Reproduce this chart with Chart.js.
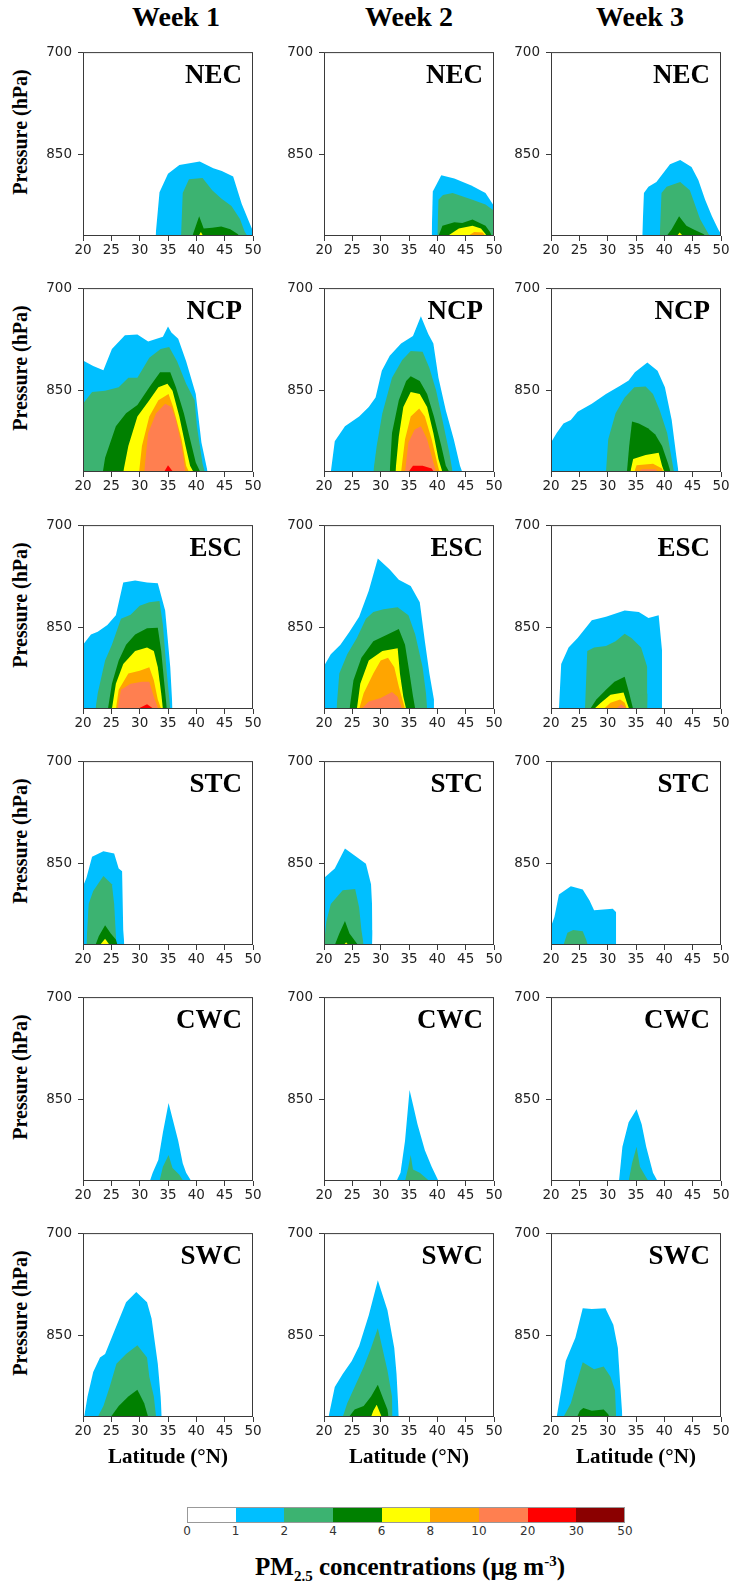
<!DOCTYPE html>
<html>
<head>
<meta charset="utf-8">
<script src="https://cdn.jsdelivr.net/npm/chart.js@4"></script>
<style>
body{margin:0;background:#fff;width:731px;height:1584px;position:relative;overflow:hidden;font-family:'Liberation Serif','Times New Roman',serif;}
.t{position:absolute;font-weight:bold;white-space:nowrap;line-height:1;color:#000;}
.t sub,.t sup{font-size:15px;line-height:0;}
canvas{position:absolute;}
.cb{position:absolute;box-sizing:border-box;}
.cbl{position:absolute;font-family:'DejaVu Sans',sans-serif;font-size:12px;color:#333;line-height:1;transform:translateX(-50%);}
</style>
</head>
<body>
<script>
// contour levels (ug m-3) and fill colours between them
const LEVELS = [0, 1, 2, 4, 6, 8, 10, 20, 30, 50];
const COLORS = ['#ffffff', '#00bfff', '#3cb371', '#008000', '#ffff00', '#ffa500', '#ff7f50', '#ff0000', '#8b0000'];

const WEEKS = ['Week 1', 'Week 2', 'Week 3'];
const REGIONS = ['NEC', 'NCP', 'ESC', 'STC', 'CWC', 'SWC'];
const P_TICKS = [700, 850];
const P_TOP = 700, PB = 969;

// each ring: [level index, lat, p, lat, p, ...] (outline of the area above that level)
const NEC_W1 = [
  [1, 32.8,969, 33.5,905, 35,878, 37,865, 40.6,860, 43,870, 44.5,874, 46.5,882, 48,922, 49.3,948, 50,962, 50,969],
  [2, 37.3,969, 37.6,906, 38.7,886, 41.1,884, 42.8,902, 44.4,914, 46.2,925, 47.7,944, 48.5,962, 49,969],
  [3, 39.3,969, 40.5,940, 41.3,958, 42.8,957, 44.4,955, 46,959, 47.3,966, 47.6,969],
  [4, 40.4,969, 40.8,963, 41.2,969]
];
const NEC_W2 = [
  [1, 39,969, 39.2,904, 40.7,880, 43,885, 46,895, 48.5,906, 50,925, 50,969],
  [2, 40,969, 40.2,916, 41,909, 42.7,906, 46.2,916, 48.5,923, 50,932, 50,969],
  [3, 40.2,969, 40.9,954, 43,949, 44.4,950, 46.2,945, 48.5,954, 49.3,963, 49.6,969],
  [4, 41.8,969, 43.8,958, 46.2,954, 47.7,958, 48.5,966, 48.7,969],
  [5, 45.4,969, 46.5,963, 48,964, 48.5,969]
];
const NEC_W3 = [
  [1, 36.1,969, 36.4,906, 37.2,897, 38.6,890, 41,864, 42.8,858, 44.8,868, 46,887, 47.2,916, 48.4,940, 49.5,959, 50,966, 50,969],
  [2, 39.2,969, 39.5,906, 40.4,897, 42.8,890, 44.5,902, 45.1,916, 46.3,944, 47.8,966, 48.2,969],
  [3, 40.4,969, 41.3,959, 42.6,940, 43.9,954, 45.1,959, 46.9,966, 47.3,969],
  [4, 42.2,969, 42.7,964, 43.3,969]
];
const NCP_W1 = [
  [1, 20,969, 20,806, 21.8,814, 23.6,820, 25.1,789, 27.4,769, 29.6,768, 31.5,778, 34.1,771, 35,756, 35.6,765, 36.8,774, 38.2,807, 39.9,855, 40.9,926, 42,969],
  [2, 20,969, 20,869, 21.6,852, 23.9,850, 26.3,845, 28,831, 29.6,831, 31.7,802, 33.7,789, 35.2,786, 36.6,807, 38.2,840, 39.7,864, 40.1,902, 41.1,957, 41.5,969],
  [3, 23.5,969, 23.9,948, 25.8,902, 27.6,883, 29.6,871, 31.7,845, 33.6,823, 35.4,823, 36.4,845, 37.8,883, 38.9,921, 39.9,955, 40.7,969],
  [4, 27.1,969, 28,931, 29.6,888, 31.7,864, 33.3,845, 34.9,840, 35.8,850, 37,888, 38.1,931, 38.9,960, 39.5,969],
  [5, 29.9,969, 30.4,931, 31.7,888, 33.3,864, 35.1,855, 35.9,874, 37.4,921, 38.2,960, 38.7,969],
  [6, 30.8,969, 31.5,912, 32.9,883, 34.5,869, 35.6,874, 36.4,893, 37.4,931, 38.1,969],
  [7, 34.3,969, 35,959, 35.9,969]
];
const NCP_W2 = [
  [1, 21.2,969, 21.9,924, 23.7,902, 26.2,888, 27.9,874, 29.1,860, 30.2,821, 31.6,799, 33.6,781, 35.7,770, 37.1,741, 38.4,767, 39.3,781, 40.2,831, 41.5,879, 42.9,921, 44,960, 44.4,969],
  [2, 28.7,969, 29.3,931, 30.3,883, 32,831, 33.8,805, 35.3,792, 37.4,793, 38.6,817, 39.8,850, 40.9,893, 42.1,940, 42.7,969],
  [3, 31.6,969, 32,912, 33.2,864, 34.5,836, 35.3,829, 36.9,836, 38.2,855, 39.4,888, 40.7,931, 41.5,960, 42.1,969],
  [4, 32.6,969, 33.2,917, 34,874, 35.3,852, 36.9,855, 38.2,874, 39.3,912, 40.2,950, 40.9,969],
  [5, 33.6,969, 34.3,921, 35.3,888, 36.8,876, 37.8,888, 39,921, 40.1,960, 40.4,969],
  [6, 34.3,969, 34.9,926, 36,907, 37.1,902, 38.2,921, 39.3,955, 39.8,969],
  [7, 34.9,969, 35.7,960, 37.4,960, 39,964, 39.4,969]
];
const NCP_W3 = [
  [1, 20,969, 20,926, 21,912, 22.2,898, 23.5,893, 24.7,881, 27.2,869, 29.7,855, 32.2,843, 33.7,835, 34.8,823, 37,809, 38.8,821, 40.1,845, 41.3,893, 42.1,945, 42.5,969],
  [2, 29.7,969, 30.1,921, 31.4,883, 33,860, 34.7,845, 36.7,844, 38,855, 39.2,879, 40.5,912, 41.3,950, 41.7,969],
  [3, 33.4,969, 33.8,931, 34.3,895, 35.5,898, 37.1,905, 38.4,914, 39.6,931, 40.6,955, 41.1,969],
  [4, 34,969, 34.5,950, 36.7,944, 39,941, 39.6,960, 40,969],
  [5, 34.7,969, 35.1,959, 38,957, 39.6,964, 39.8,969],
  [6, 35.5,969, 36,965, 38.5,965, 38.8,969]
];
const ESC_W1 = [
  [1, 20,969, 20,875, 21.4,860, 22.6,856, 24.3,846, 25.8,832, 27.1,784, 29.2,781, 31.3,784, 33.2,785, 34.5,825, 35.4,908, 35.8,969],
  [2, 22.2,969, 22.6,946, 23.9,898, 25.1,875, 26.7,837, 28.4,831, 30,818, 31.7,813, 33.5,811, 34.1,846, 34.8,917, 35.4,969],
  [3, 24.4,969, 25.1,932, 26.3,898, 27.6,875, 29.2,860, 31.3,851, 33.2,850, 33.8,884, 34.4,936, 34.8,969],
  [4, 25.1,969, 25.8,932, 27.1,903, 29.2,884, 31.3,879, 32.5,884, 33.2,908, 33.8,946, 34.1,969],
  [5, 25.8,969, 26.3,941, 28,917, 30,913, 31.7,908, 32.5,927, 33.2,955, 33.8,969],
  [6, 26.1,969, 26.7,941, 28.4,932, 30.4,929, 31.7,929, 32.5,951, 33.3,969],
  [7, 29.6,969, 31.3,962, 32.5,969]
];
const ESC_W2 = [
  [1, 20,969, 20,906, 21.2,889, 22.9,875, 24.5,856, 26.2,834, 27.9,796, 29.5,749, 31.6,765, 33.2,780, 35.3,789, 36.9,813, 37.8,870, 38.6,917, 39.4,955, 39.4,969],
  [2, 22.2,969, 22.7,917, 24.1,889, 25.8,865, 27.4,837, 28.7,827, 30.5,823, 33,820, 34.9,832, 36.1,860, 37.4,908, 38,946, 38.2,969],
  [3, 24.5,969, 25.2,927, 26.6,894, 28.7,870, 31.2,860, 33.2,852, 34.3,875, 35.1,917, 35.7,950, 36.1,969],
  [4, 25.8,969, 26.4,932, 27.9,898, 30.3,884, 33,880, 33.4,917, 34,951, 34.5,969],
  [5, 26.2,969, 27,946, 28.7,917, 30,898, 31.3,894, 32.4,908, 33.2,936, 34,960, 34.3,969],
  [6, 26.6,969, 27.9,958, 30,953, 32,944, 33,951, 33.8,969]
];
const ESC_W3 = [
  [1, 21.4,969, 21.8,903, 23.1,879, 24.7,865, 27.2,839, 29.7,834, 33,825, 35.5,827, 37.2,836, 39,832, 39.6,884, 39.6,969],
  [2, 26,969, 26.4,884, 27.6,879, 29.7,877, 31.4,870, 33,859, 34.2,865, 35.9,879, 37,908, 37.2,946, 37,969],
  [3, 26.9,969, 28,955, 29.7,941, 31.2,929, 33,922, 33.8,946, 34.5,969],
  [4, 27.6,969, 28.8,960, 30.5,948, 32.8,945, 33.4,960, 33.8,969],
  [5, 29.3,969, 30.5,960, 32.2,955, 33,960, 33.4,969],
  [6, 31.4,969, 32.4,962, 33.4,969]
];
const STC_W1 = [
  [1, 20,969, 20,883, 20.6,871, 21.6,840, 23.6,832, 25.5,835, 26.3,857, 26.9,861, 27.1,947, 27.3,969],
  [2, 20.6,969, 21,909, 21.8,890, 23.6,868, 25.1,880, 25.5,909, 25.9,969],
  [3, 22.2,969, 22.8,956, 23.9,940, 24.9,952, 25.8,961, 26.1,969],
  [4, 23,969, 23.9,960, 24.7,969]
];
const STC_W2 = [
  [1, 20,969, 20,871, 21.9,857, 23.7,828, 25.4,838, 27.4,850, 28.3,880, 28.7,947, 28.5,969],
  [2, 20,969, 20.4,935, 21.2,909, 23.3,889, 25.5,887, 26.2,914, 26.6,947, 27,969],
  [3, 21.9,969, 22.7,952, 23.7,934, 24.5,952, 26,969],
  [4, 23.5,969, 23.9,965, 24.3,969]
];
const STC_W3 = [
  [1, 20,969, 20,942, 20.6,928, 21.4,895, 23.5,883, 25.6,888, 26.8,904, 27.6,918, 30.9,916, 31.5,921, 31.5,969],
  [2, 22.2,969, 22.9,951, 23.9,947, 25.6,949, 26.2,961, 26.5,969]
];
const CWC_W1 = [
  [1, 31.8,969, 32.3,957, 33.3,938, 34.1,898, 35.1,855, 35.9,881, 36.8,910, 37.6,943, 38.2,957, 39.1,969],
  [2, 33.5,969, 34.1,948, 35.1,931, 35.8,950, 37,960, 37.7,969]
];
const CWC_W2 = [
  [1, 32.8,969, 33.5,957, 34.3,910, 35.1,836, 35.7,857, 36.5,886, 37.8,924, 39,948, 40.2,969],
  [2, 34.3,969, 34.9,948, 35.3,931, 35.7,952, 36.9,957, 38.6,969]
];
const CWC_W3 = [
  [1, 32,969, 32.6,919, 33.7,883, 35.1,864, 36,886, 36.8,919, 38,957, 38.8,969],
  [2, 33.7,969, 34.3,943, 35.1,919, 35.7,948, 36.8,964, 37.2,969]
];
const SWC_W1 = [
  [1, 20.2,969, 20.8,939, 21.8,903, 23,882, 23.9,877, 25.5,844, 27.6,801, 29.4,786, 31.3,801, 32.1,825, 33.2,891, 33.7,939, 33.9,969],
  [2, 22.6,969, 23.6,953, 24.7,925, 25.9,891, 27.6,877, 29.6,864, 31.3,882, 31.7,910, 32.5,939, 32.9,969],
  [3, 24.9,969, 26.3,953, 28,939, 29.6,929, 30.8,949, 31.5,969]
];
const SWC_W2 = [
  [1, 20.8,969, 21.9,925, 23.3,906, 24.9,887, 26.2,865, 27.9,820, 29.5,769, 31.2,813, 32.4,868, 32.8,906, 33.2,969],
  [2, 23.3,969, 24.1,949, 25.4,925, 27,896, 28.3,868, 29.5,839, 30.3,868, 31.2,901, 32,939, 32.1,969],
  [3, 24.4,969, 25.4,958, 27,953, 28.3,939, 29.5,922, 30.3,939, 31.2,958, 31.4,969],
  [4, 28.3,969, 28.7,960, 29.3,951, 29.9,963, 30.2,969]
];
const SWC_W3 = [
  [1, 21,969, 21.8,930, 22.6,887, 24.3,853, 25.6,810, 27.2,811, 29.6,810, 31,834, 31.8,868, 32.2,920, 32.6,969],
  [2, 22.2,969, 23.5,949, 24.3,925, 25.6,889, 27.6,899, 29.3,895, 30.5,910, 31.3,930, 31.5,969],
  [3, 24.6,969, 25.1,960, 25.7,956, 27.2,960, 29.3,958, 30.1,965, 30.3,969]
];

const PANELS = [
  [NEC_W1, NEC_W2, NEC_W3],
  [NCP_W1, NCP_W2, NCP_W3],
  [ESC_W1, ESC_W2, ESC_W3],
  [STC_W1, STC_W2, STC_W3],
  [CWC_W1, CWC_W2, CWC_W3],
  [SWC_W1, SWC_W2, SWC_W3]
];

// page layout
const COL_LEFT = [83, 324, 551];
const ROW_TOP = [48, 284, 521, 757, 993, 1229];
const PW = 170, PH = 188;
const AX_W = 45, PAD_T = 10, PAD_R = 12, AX_H = 30;
const TICK_FONT = {family: "'DejaVu Sans', sans-serif", size: 13.5};

function addText(html, x, y, size, rot) {
  const d = document.createElement('div');
  d.className = 't';
  d.innerHTML = html;
  d.style.fontSize = size + 'px';
  d.style.left = x + 'px';
  d.style.top = y + 'px';
  d.style.transform = rot ? 'translate(-50%,-50%) rotate(-90deg)' : 'translateX(-50%)';
  document.body.appendChild(d);
  return d;
}

const frame = {
  id: 'frame',
  afterDraw(chart, args, opts) {
    const {ctx, chartArea: {left, top, right, bottom}} = chart;
    ctx.save();
    ctx.strokeStyle = '#3a3a3a';
    ctx.lineWidth = 1;
    ctx.strokeRect(left + 0.5, top + 0.5, right - left - 1, bottom - top - 1);
    ctx.font = 'bold 27px "Liberation Serif", serif';
    ctx.textAlign = 'right';
    ctx.fillStyle = '#000';
    ctx.fillText(opts.label, right - 11, top + 31);
    ctx.restore();
  }
};

function ringPoints(r) {
  const pts = [];
  for (let i = 1; i < r.length; i += 2) pts.push({x: r[i], y: r[i + 1]});
  return pts;
}

PANELS.forEach((row, r) => {
  row.forEach((rings, c) => {
    const cv = document.createElement('canvas');
    cv.width = AX_W + PW + PAD_R;
    cv.height = PAD_T + PH + AX_H;
    cv.style.left = (COL_LEFT[c] - AX_W) + 'px';
    cv.style.top = (ROW_TOP[r] - PAD_T) + 'px';
    document.body.appendChild(cv);

    new Chart(cv, {
      type: 'line',
      data: {
        datasets: rings.map(ring => ({
          data: ringPoints(ring),
          backgroundColor: COLORS[ring[0]],
          borderColor: COLORS[ring[0]],
          borderWidth: 0,
          pointRadius: 0,
          tension: 0,
          fill: {value: PB},
          order: 20 - ring[0]
        }))
      },
      options: {
        responsive: false,
        animation: false,
        devicePixelRatio: 1,
        layout: {padding: {top: PAD_T, right: PAD_R, left: 0, bottom: 0}},
        plugins: {legend: {display: false}, tooltip: {enabled: false}, frame: {label: REGIONS[r]}},
        scales: {
          x: {
            type: 'linear', min: 20, max: 50,
            ticks: {stepSize: 5, color: '#222', font: TICK_FONT, padding: 1, maxRotation: 0, autoSkip: false},
            grid: {drawOnChartArea: false, drawTicks: true, tickLength: 5, color: '#3a3a3a'},
            border: {display: false},
            afterFit(s) { s.height = AX_H; }
          },
          y: {
            type: 'linear', reverse: true, min: P_TOP, max: PB,
            afterBuildTicks(s) { s.ticks = P_TICKS.map(v => ({value: v})); },
            ticks: {color: '#222', font: TICK_FONT, padding: 6},
            grid: {drawOnChartArea: false, drawTicks: true, tickLength: 5, color: '#3a3a3a'},
            border: {display: false},
            afterFit(s) { s.width = AX_W; }
          }
        }
      },
      plugins: [frame]
    });
  });
  addText('Pressure (hPa)', 19.5, ROW_TOP[r] + 84, 20, true);
});

WEEKS.forEach((w, c) => addText(w, [176, 409, 640][c], 3, 28));
COL_LEFT.forEach(x => addText('Latitude (°N)', x + PW / 2, 1446, 21));

// colour bar
const CB_L = 187, CB_W = 438, CB_T = 1507, CB_H = 16;
const seg = CB_W / COLORS.length;
COLORS.forEach((col, i) => {
  const d = document.createElement('div');
  d.className = 'cb';
  d.style.left = (CB_L + i * seg) + 'px';
  d.style.top = CB_T + 'px';
  d.style.width = seg + 'px';
  d.style.height = CB_H + 'px';
  d.style.background = col;
  document.body.appendChild(d);
});
const bd = document.createElement('div');
bd.className = 'cb';
bd.style.cssText = `left:${CB_L}px;top:${CB_T}px;width:${CB_W}px;height:${CB_H}px;border:1px solid #999;`;
document.body.appendChild(bd);
LEVELS.forEach((v, i) => {
  const d = document.createElement('div');
  d.className = 'cbl';
  d.textContent = v;
  d.style.left = (CB_L + i * seg) + 'px';
  d.style.top = (CB_T + CB_H + 2) + 'px';
  document.body.appendChild(d);
});
addText('PM<sub>2.5</sub> concentrations (μg m<sup>-3</sup>)', 410, 1554, 25);
</script>
</body>
</html>
